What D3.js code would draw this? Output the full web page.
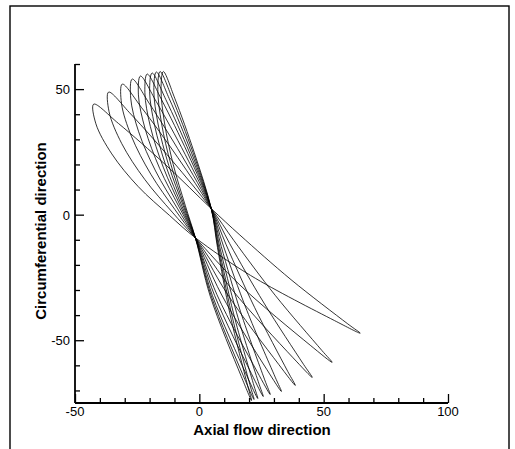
<!DOCTYPE html>
<html>
<head>
<meta charset="utf-8">
<script src="https://cdn.jsdelivr.net/npm/d3@7"></script>
<style>
  body { margin: 0; background: #fff; }
  text { font-family: "Liberation Sans", Arial, sans-serif; fill: #000; }
</style>
</head>
<body>
<div id="chart"></div>
<script>

// outlines, [axial, circumferential]
var loop0 = [[-42.5,44],[-41.6,36.2],[-35.2,24.2],[-24.6,11.2],[-12.0,-0.3],[-1.6,-9.2],[20.6,-24.2],[54.4,-42.2],[64.7,-47.2],[59.7,-43.5],[36.9,-25.9],[16.3,-8.1],[4.8,2.4],[-13.5,19.8],[-32.5,36.3]];
var loop1 = [[-36.5,48.8],[-36.3,41.0],[-31.2,28.3],[-22.0,14.1],[-10.9,1.0],[-1.6,-9.2],[16.3,-28.0],[44.6,-52.0],[53.4,-58.8],[49.3,-54.1],[30.5,-32.1],[13.9,-10.3],[4.8,2.4],[-11.0,21.6],[-27.6,40.1]];
var loop2 = [[-31,52],[-31.3,44.3],[-27.3,31.2],[-19.5,16.1],[-9.8,2.0],[-1.6,-9.2],[13.3,-30.0],[37.7,-57.0],[45.4,-64.8],[41.9,-59.6],[26.0,-35.2],[12.2,-11.5],[4.8,2.4],[-8.7,22.8],[-23.2,42.6]];
var loop3 = [[-27,54],[-27.6,46.4],[-24.4,33.0],[-17.6,17.4],[-8.9,2.6],[-1.6,-9.2],[10.8,-30.9],[31.9,-59.6],[38.6,-68],[35.6,-62.5],[22.2,-36.9],[10.8,-12.0],[4.8,2.4],[-7.1,23.6],[-20.0,44.1]];
var loop4 = [[-23.7,55.2],[-24.5,47.7],[-21.8,34.2],[-15.9,18.3],[-8.1,3.0],[-1.6,-9.2],[8.8,-31.6],[27.1,-61.6],[33,-70.4],[30.5,-64.7],[19.1,-38.1],[9.7,-12.5],[4.8,2.4],[-5.7,24.0],[-17.3,45.0]];
var loop5 = [[-21,56],[-21.9,48.6],[-19.7,35.1],[-14.5,18.9],[-7.5,3.2],[-1.6,-9.2],[7.1,-31.9],[23.3,-62.6],[28.5,-71.6],[26.3,-65.8],[16.6,-38.7],[8.8,-12.6],[4.8,2.4],[-4.6,24.3],[-15.1,45.6]];
var loop6 = [[-19,56.4],[-20.0,49.1],[-18.0,35.6],[-13.4,19.3],[-7.0,3.4],[-1.6,-9.2],[6.1,-32.1],[20.9,-63.2],[25.7,-72.4],[23.7,-66.5],[15.0,-39.1],[8.2,-12.8],[4.8,2.4],[-3.8,24.4],[-13.5,45.9]];
var loop7 = [[-17.3,56.8],[-18.3,49.6],[-16.6,36.1],[-12.3,19.6],[-6.5,3.6],[-1.6,-9.2],[5.3,-32.3],[19.0,-63.9],[23.5,-73.2],[21.7,-67.2],[13.8,-39.5],[7.8,-12.9],[4.8,2.4],[-3.1,24.5],[-12.1,46.2]];
var loop8 = [[-15.8,57],[-16.7,49.9],[-15.2,36.4],[-11.4,19.9],[-6.1,3.7],[-1.6,-9.2],[4.8,-32.4],[17.7,-64.2],[22,-73.6],[20.3,-67.6],[13.0,-39.7],[7.5,-13.0],[4.8,2.4],[-2.5,24.6],[-10.9,46.4]];
var loop9 = [[-14.5,57],[-15.4,50.0],[-14.0,36.5],[-10.5,20.0],[-5.7,3.8],[-1.6,-9.2],[4.4,-32.5],[16.9,-64.5],[21,-74],[19.4,-68.0],[12.4,-39.9],[7.3,-13.1],[4.8,2.4],[-2.0,24.6],[-9.9,46.4]];
var loops = [loop0, loop1, loop2, loop3, loop4, loop5, loop6, loop7, loop8, loop9];

var xDomain = [-50, 100],
    yDomain = [-75, 60];
var xMajor = [-50, 0, 50, 100],
    xMinor = [-40, -30, -20, -10, 10, 20, 30, 40, 60, 70, 80, 90];
var yMajor = [-50, 0, 50],
    yMinor = [-70, -60, -40, -30, -20, -10, 10, 20, 30, 40, 60];

var width = 515, height = 449;

var svg = d3.select('#chart').append('svg')
    .attr('width', width)
    .attr('height', height);

svg.append('rect')
    .attr('width', width).attr('height', height)
    .attr('fill', '#fff');

// outer frame
svg.append('rect')
    .attr('x', 10).attr('y', 6)
    .attr('width', 499).attr('height', 470)
    .attr('fill', 'none')
    .attr('stroke', '#000')
    .attr('stroke-width', 1.4);

var xScale = d3.scaleLinear().domain(xDomain).range([75, 448]);
var yScale = d3.scaleLinear().domain(yDomain).range([403, 64]);

var line = d3.line()
    .x(function (d) { return xScale(d[0]); })
    .y(function (d) { return yScale(d[1]); })
    .curve(d3.curveCatmullRomClosed.alpha(0.5));

svg.append('g')
    .attr('class', 'series')
    .selectAll('path')
    .data(loops)
    .enter().append('path')
    .attr('d', line)
    .attr('fill', 'none')
    .attr('stroke', '#000')
    .attr('stroke-width', 0.8);

// axes, ticks pointing inward
var xAxis = d3.axisTop(xScale).tickValues(xMajor).tickSize(9).tickFormat('');
var xAxisMinor = d3.axisTop(xScale).tickValues(xMinor).tickSize(5).tickFormat('');
var yAxis = d3.axisRight(yScale).tickValues(yMajor).tickSize(9).tickFormat('');
var yAxisMinor = d3.axisRight(yScale).tickValues(yMinor).tickSize(5).tickFormat('');

var gx = svg.append('g').attr('transform', 'translate(0,' + yScale(yDomain[0]) + ')');
gx.call(xAxis);
gx.append('g').call(xAxisMinor);
var gy = svg.append('g').attr('transform', 'translate(' + xScale(xDomain[0]) + ',0)');
gy.call(yAxis);
gy.append('g').call(yAxisMinor);

svg.selectAll('.domain').remove();
svg.selectAll('.tick line').attr('stroke', '#000').attr('stroke-width', 1.3);

svg.append('line')
    .attr('x1', xScale(xDomain[0])).attr('x2', xScale(xDomain[1]))
    .attr('y1', yScale(yDomain[0])).attr('y2', yScale(yDomain[0]))
    .attr('stroke', '#000').attr('stroke-width', 1.8);
svg.append('line')
    .attr('x1', xScale(xDomain[0])).attr('x2', xScale(xDomain[0]))
    .attr('y1', yScale(yDomain[0])).attr('y2', yScale(yDomain[1]))
    .attr('stroke', '#000').attr('stroke-width', 1.8);

// tick labels
svg.selectAll('.xlab')
    .data(xMajor)
    .enter().append('text')
    .attr('x', function (d) { return xScale(d); })
    .attr('y', 416)
    .attr('text-anchor', 'middle')
    .style('font-size', '13px')
    .text(function (d) { return d; });

svg.selectAll('.ylab')
    .data(yMajor)
    .enter().append('text')
    .attr('x', 70)
    .attr('y', function (d) { return yScale(d) + 5; })
    .attr('text-anchor', 'end')
    .style('font-size', '13px')
    .text(function (d) { return d; });

// axis titles
svg.append('text')
    .attr('x', 262).attr('y', 435)
    .attr('text-anchor', 'middle')
    .style('font-size', '15px').style('font-weight', 'bold')
    .text('Axial flow direction');

svg.append('text')
    .attr('transform', 'translate(46,231) rotate(-90)')
    .attr('text-anchor', 'middle')
    .style('font-size', '15px').style('font-weight', 'bold')
    .text('Circumferential direction');

</script>
</body>
</html>
